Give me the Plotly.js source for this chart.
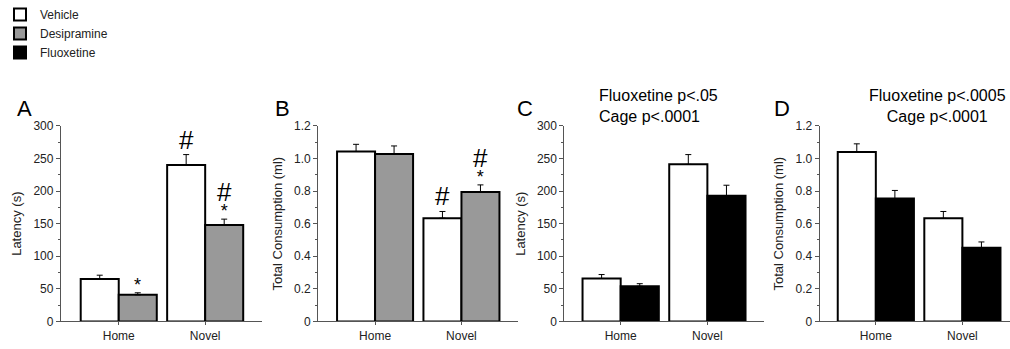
<!DOCTYPE html>
<html>
<head>
<meta charset="utf-8">
<script src="https://cdn.plot.ly/plotly-3.0.1.min.js"></script>
<style>html,body{margin:0;padding:0;background:#fff;}#chart{width:1010px;height:349px;}</style>
</head>
<body>
<div id="chart"></div>
<script>
// ---- data ----
var categories = ["Home", "Novel"];
var seriesNames = ["Vehicle", "Desipramine", "Fluoxetine"];

// Panel A: latency (s), desipramine experiment
var latencyVehicleA = [65, 240];
var latencyVehicleAErr = [6, 16];
var latencyDesipramine = [41, 148];
var latencyDesipramineErr = [3, 9];

// Panel B: total consumption (ml), desipramine experiment
var consumptionVehicleB = [1.043, 0.634];
var consumptionVehicleBErr = [0.044, 0.041];
var consumptionDesipramine = [1.027, 0.795];
var consumptionDesipramineErr = [0.05, 0.043];

// Panel C: latency (s), fluoxetine experiment
var latencyVehicleC = [66, 241];
var latencyVehicleCErr = [6, 15];
var latencyFluoxetine = [54, 193];
var latencyFluoxetineErr = [4, 16];

// Panel D: total consumption (ml), fluoxetine experiment
var consumptionVehicleD = [1.04, 0.633];
var consumptionVehicleDErr = [0.05, 0.042];
var consumptionFluoxetine = [0.754, 0.452];
var consumptionFluoxetineErr = [0.05, 0.036];

var latencyTicks = [0, 50, 100, 150, 200, 250, 300];
var latencyTickText = ["0", "50", "100", "150", "200", "250", "300"];
var consumptionTicks = [0, 0.2, 0.4, 0.6, 0.8, 1.0, 1.2];
var consumptionTickText = ["0", "0.2", "0.4", "0.6", "0.8", "1.0", "1.2"];

var panelLetters = ["A", "B", "C", "D"];
var statsC = ["Fluoxetine p<.05", "Cage p<.0001"];
var statsD = ["Fluoxetine p<.0005", "Cage p<.0001"];

// significance marks: category index, bar index (0 = vehicle, 1 = drug), symbols top-down, value at error top
var marksA = [
  {cat: 0, bar: 1, syms: ["*"], top: latencyDesipramine[0] + latencyDesipramineErr[0]},
  {cat: 1, bar: 0, syms: ["#"], top: latencyVehicleA[1] + latencyVehicleAErr[1]},
  {cat: 1, bar: 1, syms: ["#", "*"], top: latencyDesipramine[1] + latencyDesipramineErr[1]}
];
var marksB = [
  {cat: 1, bar: 0, syms: ["#"], top: consumptionVehicleB[1] + consumptionVehicleBErr[1]},
  {cat: 1, bar: 1, syms: ["#", "*"], top: consumptionDesipramine[1] + consumptionDesipramineErr[1]}
];

// ---- styling ----
var FONT = "Liberation Sans, Arial, Helvetica, sans-serif";
var TXT = "#222";
var colors = {Vehicle: "#ffffff", Desipramine: "#999999", Fluoxetine: "#000000"};
var W = 1010, H = 349;

function bar(name, y, err, xa, ya, showlegend) {
  return {
    type: "bar", name: name, x: categories, y: y,
    xaxis: xa, yaxis: ya, showlegend: showlegend, legendgroup: name,
    marker: {color: colors[name], line: {color: "#000", width: 2}},
    error_y: {type: "data", array: err, arrayminus: err.map(function(){return 0;}), symmetric: false,
              color: "#000", thickness: 1, width: 3},
    hoverinfo: "skip"
  };
}

var data = [
  bar("Vehicle", latencyVehicleA, latencyVehicleAErr, "x", "y", true),
  bar("Desipramine", latencyDesipramine, latencyDesipramineErr, "x", "y", true),
  bar("Vehicle", consumptionVehicleB, consumptionVehicleBErr, "x2", "y2", false),
  bar("Desipramine", consumptionDesipramine, consumptionDesipramineErr, "x2", "y2", false),
  bar("Vehicle", latencyVehicleC, latencyVehicleCErr, "x3", "y3", false),
  bar("Fluoxetine", latencyFluoxetine, latencyFluoxetineErr, "x3", "y3", true),
  bar("Vehicle", consumptionVehicleD, consumptionVehicleDErr, "x4", "y4", false),
  bar("Fluoxetine", consumptionFluoxetine, consumptionFluoxetineErr, "x4", "y4", false)
];

var yDomain = [(H - 321) / H, (H - 122) / H];
var xDomains = [[58 / W, 260 / W], [316 / W, 517 / W], [563 / W, 763 / W], [819 / W, 1]];
var xRanges = [[-0.67, 1.66], [-0.66, 1.66], [-0.65, 1.65], [-0.65, 1.55]];

function xaxis(i) {
  return {
    domain: xDomains[i], range: xRanges[i], type: "category", anchor: i === 0 ? "y" : "y" + (i + 1),
    showline: true, linecolor: "#555", linewidth: 1, showgrid: false, zeroline: false,
    ticks: "outside", ticklen: 3, tickcolor: "#555", tickwidth: 1,
    tickfont: {family: FONT, size: 12, color: TXT}, fixedrange: true
  };
}
function yaxis(i, range, tv, tt, dtickMinor, title, standoff) {
  return {
    domain: yDomain, range: range, anchor: i === 0 ? "x" : "x" + (i + 1),
    showline: true, linecolor: "#555", linewidth: 1, showgrid: false, zeroline: false,
    ticks: "outside", ticklen: 4, tickcolor: "#555", tickwidth: 1,
    tickvals: tv, ticktext: tt,
    minor: {ticks: "outside", ticklen: 2, dtick: dtickMinor, tickcolor: "#555", showgrid: false},
    tickfont: {family: FONT, size: 12, color: TXT},
    title: {text: title, font: {family: FONT, size: 13, color: TXT}, standoff: standoff},
    fixedrange: true
  };
}

var annotations = [];
var letterX = [12, 271, 514, 771];
panelLetters.forEach(function(L, i) {
  annotations.push({text: L, xref: "paper", yref: "paper", x: letterX[i] / W, y: (H - 104) / H,
    xanchor: "left", yanchor: "middle", showarrow: false, font: {family: FONT, size: 22, color: "#000"}});
});
annotations.push({text: statsC.join("<br>"), xref: "paper", yref: "paper", x: 596 / W, y: (H - 102) / H,
  xanchor: "left", yanchor: "middle", align: "left", showarrow: false,
  font: {family: FONT, size: 16, color: "#000"}});
annotations.push({text: statsD.join("<br>"), xref: "paper", yref: "paper", x: 937 / W, y: (H - 102) / H,
  xanchor: "center", yanchor: "middle", align: "center", showarrow: false,
  font: {family: FONT, size: 16, color: "#000"}});

var barOffset = 0.22;
function symSpan(s) {
  return "<span style='font-size:" + (s === "*" ? 18 : 26) + "px'>" + s + "</span>";
}
function addMarks(marks, xa, ya) {
  marks.forEach(function(m) {
    var xpos = m.cat + (m.bar === 0 ? -barOffset : barOffset);
    var last = m.syms[m.syms.length - 1];
    annotations.push({text: m.syms.map(symSpan).join("<br>"), xref: xa, yref: ya, x: xpos, y: m.top,
      yshift: last === "*" ? -4 : -2,
      xanchor: "center", yanchor: "bottom", align: "center", showarrow: false,
      font: {family: FONT, size: 12, color: "#000"}});
  });
}
addMarks(marksA, "x", "y");
addMarks(marksB, "x2", "y2");

var layout = {
  width: W, height: H, margin: {l: 0, r: 0, t: 0, b: 0},
  paper_bgcolor: "#fff", plot_bgcolor: "#fff",
  barmode: "group", bargap: 0.12, bargroupgap: 0,
  showlegend: true,
  legend: {x: -0.003, y: 1.018, xanchor: "left", yanchor: "top", bgcolor: "rgba(0,0,0,0)", borderwidth: 0,
           font: {family: FONT, size: 12, color: TXT}, traceorder: "normal", itemwidth: 30,
           tracegroupgap: 0},
  xaxis: xaxis(0), xaxis2: xaxis(1), xaxis3: xaxis(2), xaxis4: xaxis(3),
  yaxis: yaxis(0, [0, 300], latencyTicks, latencyTickText, 25, "Latency (s)", 8),
  yaxis2: yaxis(1, [0, 1.2], consumptionTicks, consumptionTickText, 0.1, "Total Consumption (ml)", 8),
  yaxis3: yaxis(2, [0, 300], latencyTicks, latencyTickText, 25, "Latency (s)", 8),
  yaxis4: yaxis(3, [0, 1.2], consumptionTicks, consumptionTickText, 0.1, "Total Consumption (ml)", 8),
  annotations: annotations
};

Plotly.newPlot("chart", data, layout, {displayModeBar: false, staticPlot: true});
</script>
</body>
</html>
